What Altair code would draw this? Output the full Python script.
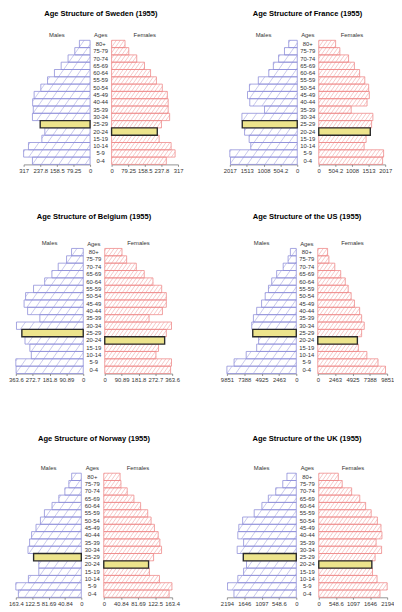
import math
import altair as alt
import pandas as pd

ages = ["0-4", "5-9", "10-14", "15-19", "20-24", "25-29", "30-34", "35-39", "40-44",
        "45-49", "50-54", "55-59", "60-64", "65-69", "70-74", "75-79", "80+"]

titles = ["Sweden", "France", "Belgium", "the US", "Norway", "the UK"]

# population (thousands), ordered from 0-4 up to 80+
sweden_m = [275, 317, 294, 230, 216, 238, 275, 271, 274, 267, 235, 203, 170, 138, 105, 73, 51]
sweden_f = [261, 303, 284, 227, 218, 238, 277, 270, 270, 266, 242, 214, 186, 157, 120, 82, 64]
france_m = [1997, 2016.8, 1390, 1439, 1576, 1645, 1655, 979, 1420, 1488, 1430, 1165, 852, 715, 558, 382, 255]
france_f = [1938, 1968, 1377, 1437, 1564, 1604, 1643, 984, 1466, 1535, 1515, 1397, 1240, 1082, 905, 640, 512]
belgium_m = [362, 363.56, 280, 288, 314, 331, 360, 234, 300, 319, 311, 268, 208, 169, 135, 90, 63]
belgium_f = [355, 360, 276, 290, 323, 332, 360, 239, 311, 332, 332, 307, 260, 213, 170, 118, 93]
us_m = [9850.6, 8829, 7110, 5622, 5344, 6180, 6320, 6087, 5622, 4925, 4414, 3950, 3485, 2788, 1859, 1162, 836]
us_f = [9619, 8550, 6970, 5762, 5622, 6227, 6598, 6227, 5948, 5204, 4740, 4321, 3903, 3253, 2416, 1580, 1394]
norway_m = [157, 163.376, 132, 106, 106, 119, 133, 129, 124, 113, 102, 92, 73, 56, 41, 31, 24]
norway_f = [156, 162.8, 133, 109, 107, 119, 138, 134, 130, 121, 113, 105, 88, 72, 56, 41, 39]
uk_m = [1971, 2174, 1849, 1666, 1574, 1676, 1869, 1666, 1849, 1818, 1696, 1331, 1087, 884, 650, 427, 295]
uk_f = [1964, 2194.4, 1870, 1724, 1703, 1807, 2016, 1839, 2027, 1996, 1881, 1682, 1504, 1316, 1055, 752, 627]

male_highlight = "25-29"
female_highlight = "20-24"

FONT = "Liberation Sans"
BLUE_LINE = "#8e8ed8"
BLUE_HATCH = "#b0b0e4"
RED_LINE = "#ee8a8a"
RED_HATCH = "#f4afaf"
HL_FILL = "#ede48c"
SLOPE = math.tan(math.radians(55))


def hatch(vals, m, W, H, step, reverse, skip):
    n = len(vals)
    rh = H / n
    out = []
    for i, v in enumerate(vals):
        if ages[i] == skip:
            continue
        w = v / m * W
        u0, u1 = (W - w, W) if reverse else (0.0, w)
        t0, t1 = i * rh, (i + 1) * rh
        kmin = math.floor((t0 - SLOPE * u1) / (step * SLOPE)) - 1
        kmax = math.ceil((t1 - SLOPE * u0) / (step * SLOPE)) + 1
        for k in range(kmin, kmax + 1):
            c = k * step * SLOPE
            ua = max(u0, (t0 - c) / SLOPE)
            ub = min(u1, (t1 - c) / SLOPE)
            if ub - ua > 0.15:
                ta, tb = SLOPE * ua + c, SLOPE * ub + c
                if reverse:
                    xa, xb = (W - ua) / W * m, (W - ub) / W * m
                else:
                    xa, xb = ua / W * m, ub / W * m
                out.append({"hx": xa, "hx2": xb, "hy": ta / rh, "hy2": tb / rh})
    return pd.DataFrame(out)


def side(vals, m, W, H, reverse, label, line_col, hatch_col, step, hl):
    n = len(vals)
    df = pd.DataFrame({"age": ages, "v": vals, "zero": [0] * n,
                       "lo": list(range(n)), "hi": [i + 1 for i in range(n)]})
    xs = alt.Scale(domain=[0, m], nice=False, zero=True, reverse=reverse)
    ys = alt.Scale(domain=[0, n], nice=False, zero=True)
    ax = alt.Axis(values=[0, m / 4, m / 2, 3 * m / 4, m], format=".4", labelFontSize=6,
                  labelColor="#333", tickSize=2, tickColor="#777", domainColor="#777",
                  domainWidth=0.8, tickWidth=0.8, labelPadding=1, grid=False, title=None,
                  labelOverlap=False, labelFlush=False)
    hd = hatch(vals, m, W, H, step, reverse, hl)
    lines = alt.Chart(hd).mark_rule(color=hatch_col, strokeWidth=0.7).encode(
        x=alt.X("hx:Q", scale=xs, axis=ax), x2="hx2:Q",
        y=alt.Y("hy:Q", scale=ys, axis=None), y2="hy2:Q")
    base = alt.Chart(df).encode(
        x=alt.X("zero:Q", scale=xs, axis=ax), x2="v:Q",
        y=alt.Y("lo:Q", scale=ys, axis=None), y2="hi:Q")
    outline = base.mark_rect(fillOpacity=0, stroke=line_col, strokeWidth=0.8).transform_filter(
        alt.datum.age != hl)
    high = base.mark_rect(fill=HL_FILL, stroke="#2a2a2a", strokeWidth=1.4).transform_filter(
        alt.datum.age == hl)
    return alt.layer(lines, outline, high).properties(
        width=W, height=H,
        title=alt.TitleParams(label, fontSize=6, fontWeight="normal", color="#333",
                              offset=2, anchor="middle"))


def ages_col(Wa, H):
    n = len(ages)
    df = pd.DataFrame({"age": ages, "mid": [i + 0.5 for i in range(n)]})
    return alt.Chart(df).mark_text(fontSize=6, color="#333").encode(
        x=alt.value(Wa / 2),
        y=alt.Y("mid:Q", scale=alt.Scale(domain=[0, n], nice=False, zero=True), axis=None),
        text="age:N").properties(
        width=Wa, height=H,
        title=alt.TitleParams("Ages", fontSize=6, fontWeight="normal", color="#333",
                              offset=2, anchor="middle"))


def country(name, mv, fv, Wl, gap, Wr, H, toff):
    m = max(max(mv), max(fv))
    left = side(mv, m, Wl, H, True, "Males", BLUE_LINE, BLUE_HATCH, 9, male_highlight)
    mid = ages_col(gap - 3.4, H)
    right = side(fv, m, Wr, H, False, "Females", RED_LINE, RED_HATCH, 4, female_highlight)
    return alt.hconcat(left, mid, right, spacing=0).properties(
        title=alt.TitleParams(f"Age Structure of {name} (1955)", fontSize=7.7,
                              fontWeight="bold", color="#000", anchor="middle", offset=toff))


spacer = alt.Chart(pd.DataFrame({"s": [0]})).mark_rect(opacity=0).encode(
    x=alt.value(0), x2=alt.value(2), y=alt.value(0), y2=alt.value(1)).properties(width=2, height=1)

row1 = alt.hconcat(
    spacer,
    alt.hconcat(country(titles[0], sweden_m, sweden_f, 68, 21, 68, 127, 15),
                country(titles[1], france_m, france_f, 69, 21, 68, 127, 15), spacing=40),
    spacing=0)
row2 = alt.hconcat(country(titles[2], belgium_m, belgium_f, 69, 21, 69, 128, 20),
                   country(titles[3], us_m, us_f, 71, 21, 71, 128, 20), spacing=41)
row3 = alt.hconcat(country(titles[4], norway_m, norway_f, 67, 22, 70, 127, 23),
                   country(titles[5], uk_m, uk_f, 71, 22, 70, 127, 23), spacing=41)

chart = alt.vconcat(row1, alt.vconcat(row2, row3, spacing=53), spacing=40).properties(
    padding={"top": -6, "left": 0, "right": 0, "bottom": 0}
).configure(font=FONT).configure_view(stroke=None)

chart.save("out.html", embed_options={"renderer": "svg", "actions": False})
